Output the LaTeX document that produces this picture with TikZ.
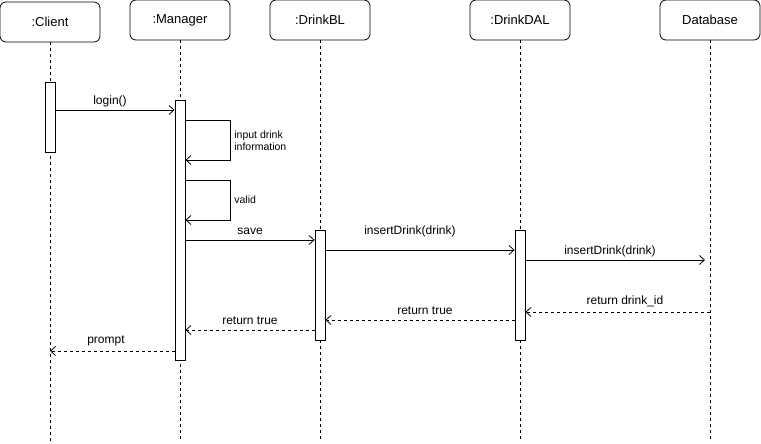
\documentclass[tikz,border=0pt]{standalone}
\usepackage{fontspec}
\setmainfont{Liberation Sans}
\usetikzlibrary{arrows.meta}
\begin{document}
\begin{tikzpicture}[x=1pt,y=-1pt,line width=0.8pt,
  head/.style={draw,rounded corners=6pt,minimum width=100pt,minimum height=40pt,inner sep=0pt,font=\fontsize{13}{15}\selectfont},
  lifeline/.style={dash pattern=on 3pt off 3pt},
  act/.style={draw,fill=white,minimum width=10pt,inner sep=0pt},
  msg/.style={-{Straight Barb[length=5pt,width=9pt]}},
  ret/.style={msg,dash pattern=on 3pt off 3pt},
  lbl/.style={font=\fontsize{12}{14}\selectfont,inner sep=0pt},
  slbl/.style={font=\fontsize{10.5}{12.5}\selectfont,inner sep=0pt,align=left,anchor=west}]
\useasboundingbox (0,0) rectangle (761,444);

% participants
\node[head] (client) at (50,22) {:Client};
\node[head] (manager) at (180,20) {:Manager};
\node[head] (bl) at (320,20) {:DrinkBL};
\node[head] (dal) at (520,20) {:DrinkDAL};
\node[head] (db) at (710,20) {Database};

% lifeline ends
\coordinate (clientEnd) at (50,441);
\coordinate (managerEnd) at (180,441);
\coordinate (blEnd) at (320,441);
\coordinate (dalEnd) at (520,441);
\coordinate (dbEnd) at (710,441);

\draw[lifeline] (client.south) -- (clientEnd);
\draw[lifeline] (manager.south) -- (managerEnd);
\draw[lifeline] (bl.south) -- (blEnd);
\draw[lifeline] (dal.south) -- (dalEnd);
\draw[lifeline] (db.south) -- (dbEnd);

% activation bars
\node[act,minimum height=70pt] (cA) at (50,117) {};
\node[act,minimum height=260pt] (mA) at (180,230) {};
\node[act,minimum height=110pt] (bA) at (320,285) {};
\node[act,minimum height=110pt] (dA) at (520,285) {};

% messages
\draw[msg] (cA.east |- 0,110) -- (mA.west |- 0,110);
\node[lbl] (l1) at (110,101) {login()};

\draw[msg] (mA.east |- 0,120) -- ++(45,0) |- (mA.east |- 0,160);
\node[slbl] (l2) at (234,140.5) {input drink\\information};

\draw[msg] (mA.east |- 0,180) -- ++(45,0) |- (mA.east |- 0,220);
\node[slbl] (l3) at (234,199.5) {valid};

\draw[msg] (mA.east |- 0,240) -- (bA.west |- 0,240);
\node[lbl] (l4) at (250,231) {save};

\draw[msg] (bA.east |- 0,250) -- (dA.west |- 0,250);
\node[lbl] (l5) at (410,231) {insertDrink(drink)};

\coordinate (dbIn) at (705,260);
\draw[msg] (dA.east |- 0,260) -- (dbIn);
\node[lbl] (l6) at (610,251) {insertDrink(drink)};

\coordinate (dbOut) at (710,312);
\draw[ret] (dbOut) -- (dA.east |- 0,312);
\node[lbl] (l7) at (625,301) {return drink\_id};

\draw[ret] (dA.west |- 0,320) -- (bA.east |- 0,320);
\node[lbl] (l8) at (425,311) {return true};

\draw[ret] (bA.west |- 0,330) -- (mA.east |- 0,330);
\node[lbl] (l9) at (250,321) {return true};

\draw[ret] (mA.west |- 0,351) -- (client |- 0,351);
\node[lbl] (l10) at (106,341) {prompt};
\end{tikzpicture}
\end{document}
